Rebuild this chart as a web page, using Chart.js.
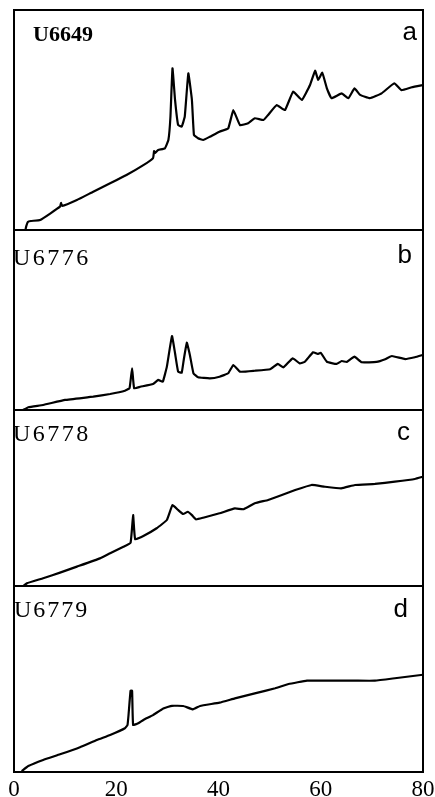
<!DOCTYPE html>
<html>
<head>
<meta charset="utf-8">
<script src="https://cdn.jsdelivr.net/npm/chart.js@4.4.0/dist/chart.umd.min.js"></script>
<style>
    html, body { margin: 0; padding: 0; background: #fff; overflow: hidden; }
    body { width: 435px; height: 797px; position: relative; }
    canvas { position: absolute; left: 0; }
</style>
</head>
<body>
<canvas id="chart-a"></canvas>
<canvas id="chart-b"></canvas>
<canvas id="chart-c"></canvas>
<canvas id="chart-d"></canvas>
<script>
// Eixo x compartilhado (2θ) e rótulos
const xTicks = [0, 20, 40, 60, 80];
const sampleNames = ['U6649', 'U6776', 'U6778', 'U6779'];
const panelLetters = ['a', 'b', 'c', 'd'];

// U6649 (a)
const twoThetaA = [0, 2.2, 2.4, 2.7, 3.3, 5.1, 9.0, 9.2, 9.4, 12.3,
    15.5, 18.8, 22.0, 25.3, 27.2, 27.4, 27.6, 28.2, 29.5, 30.2,
    30.6, 31.0, 31.5, 32.1, 32.8, 33.4, 34.1, 34.8, 35.2, 36.0,
    37.0, 38.3, 40.2, 41.9, 42.9, 44.2, 45.8, 47.1, 48.8, 49.7,
    51.4, 53.0, 54.6, 56.3, 57.9, 58.9, 59.5, 60.3, 61.2, 62.1,
    64.1, 65.4, 66.6, 67.7, 69.6, 71.9, 74.4, 75.8, 77.8, 80];
const intensityA = [0, 0, 1.8, 3.6, 4.1, 4.5, 10.6, 12.3, 10.9, 13.6,
    17.4, 21.2, 25.0, 29.5, 32.7, 35.9, 35.0, 36.4, 37.1, 40.9,
    51.5, 73.5, 59.1, 47.7, 47.0, 51.5, 71.2, 59.1, 43.2, 41.7,
    40.9, 42.4, 44.7, 46.2, 54.5, 47.7, 48.5, 50.8, 50.0, 52.3,
    56.8, 54.5, 62.9, 59.1, 65.9, 72.4, 68.2, 71.5, 64.4, 59.9,
    62.1, 59.9, 64.4, 61.4, 59.9, 62.1, 66.7, 63.6, 64.9, 65.9];

// U6776 (b)
const twoThetaB = [1.8, 2.8, 5.7, 10.0, 15.5, 18.8, 21.7, 22.6, 23.1, 23.5,
    24.7, 27.2, 28.2, 29.1, 29.9, 30.9, 31.5, 32.1, 32.8, 33.2,
    33.8, 34.4, 35.1, 36.0, 38.3, 40.2, 41.9, 42.9, 44.2, 47.1,
    50.1, 51.6, 52.7, 54.5, 55.9, 56.9, 58.5, 59.4, 60.0, 61.2,
    63.1, 64.1, 65.1, 66.6, 68.0, 70.9, 72.6, 73.9, 76.5, 78.4, 80];
const intensityB = [0, 1.5, 2.8, 5.6, 7.4, 8.9, 10.7, 12.1, 23.2, 12.1,
    12.9, 14.4, 16.7, 15.7, 24.1, 41.1, 31.5, 21.3, 20.7, 27.8,
    37.4, 30.6, 20.4, 18.2, 17.6, 18.5, 20.4, 25.0, 21.3, 21.8,
    22.6, 25.6, 23.7, 28.7, 25.9, 26.8, 32.1, 31.1, 31.8, 26.8,
    25.6, 27.2, 26.7, 29.6, 26.5, 26.7, 28.2, 30.0, 28.3, 29.3, 30.6];

// U6778 (c)
const twoThetaC = [1.8, 2.5, 5.7, 9.0, 12.3, 16.8, 18.8, 21.4, 22.8, 23.3,
    23.7, 25.3, 27.9, 29.9, 31.0, 32.1, 33.1, 34.0, 34.8, 35.6,
    37.0, 40.2, 43.2, 44.9, 47.1, 49.7, 52.4, 55.0, 58.2, 60.8,
    64.0, 66.7, 70.6, 74.5, 78.4, 80];
const intensityC = [0, 1.5, 4.4, 7.6, 11.0, 15.7, 18.6, 22.3, 24.6, 40.3,
    26.5, 28.4, 32.8, 37.5, 46.0, 43.2, 40.9, 42.2, 40.3, 37.9,
    38.8, 41.3, 44.1, 43.6, 47.0, 48.9, 51.7, 54.5, 57.4, 56.4,
    55.5, 57.4, 58.0, 59.3, 60.8, 62.1];

// U6779 (d)
const twoThetaD = [1.5, 2.8, 5.7, 9.0, 12.9, 16.2, 18.8, 21.7, 22.2, 22.4,
    22.8, 23.1, 23.3, 24.3, 25.3, 27.2, 29.2, 30.9, 33.1, 35.0,
    36.4, 40.2, 43.2, 47.1, 51.1, 53.7, 57.3, 62.1, 66.7, 70.6,
    74.5, 80];
const intensityD = [0.5, 3.2, 6.5, 9.5, 13.3, 17.2, 19.9, 23.5, 25.3, 30.6,
    43.7, 43.7, 25.3, 26.2, 28.0, 30.6, 34.2, 35.6, 35.5, 33.7,
    35.5, 37.3, 39.6, 42.3, 45.0, 47.3, 49.1, 49.1, 49.1, 49.1,
    50.4, 52.3];

const series = [
    [twoThetaA, intensityA],
    [twoThetaB, intensityB],
    [twoThetaC, intensityC],
    [twoThetaD, intensityD]
];

// Posição de cada painel na página
const panels = [
    { id: 'chart-a', top: 10, height: 220, nameFont: 'bold 22px "Liberation Serif"', spacing: '0px', nameX: 19, nameBase: 31, letterRight: -6, letterBase: 30 },
    { id: 'chart-b', top: 230, height: 180, nameFont: '24px "Liberation Serif"', spacing: '2.5px', nameX: -1, nameBase: 35, letterRight: -11, letterBase: 33 },
    { id: 'chart-c', top: 410, height: 176, nameFont: '24px "Liberation Serif"', spacing: '2.5px', nameX: -1, nameBase: 31, letterRight: -13, letterBase: 30 },
    { id: 'chart-d', top: 586, height: 186, nameFont: '24px "Liberation Serif"', spacing: '2px', nameX: 0, nameBase: 31, letterRight: -15, letterBase: 31 }
];

// Plugin: moldura do painel + nome da amostra + letra
const panelLabels = {
    id: 'panelLabels',
    afterDraw(chart, args, opts) {
        const { ctx, chartArea } = chart;
        ctx.save();
        ctx.strokeStyle = '#000';
        ctx.lineWidth = 2;
        ctx.strokeRect(chartArea.left, chartArea.top, chartArea.right - chartArea.left, chartArea.bottom - chartArea.top);
        ctx.fillStyle = '#000';
        ctx.textBaseline = 'alphabetic';
        ctx.textAlign = 'left';
        ctx.font = opts.nameFont;
        ctx.letterSpacing = opts.spacing;
        ctx.fillText(opts.name, chartArea.left + opts.nameX, chartArea.top + opts.nameBase);
        ctx.letterSpacing = '0px';
        ctx.font = '26px "Liberation Sans"';
        ctx.textAlign = 'right';
        ctx.fillText(opts.letter, chartArea.right + opts.letterRight, chartArea.top + opts.letterBase);
        ctx.restore();
    }
};

panels.forEach((p, i) => {
    const isLast = i === panels.length - 1;
    const canvas = document.getElementById(p.id);
    const axisHeight = 30;
    canvas.style.top = (p.top - 2) + 'px';
    // canvas mais largo que a janela para o rótulo "80" não empurrar a área do gráfico
    canvas.width = 470;
    canvas.height = p.height + 2 + (isLast ? axisHeight : 2);

    const [xs, ys] = series[i];

    new Chart(canvas.getContext('2d'), {
        type: 'line',
        data: {
            datasets: [{
                data: xs.map((x, k) => ({ x: x, y: ys[k] })),
                borderColor: '#000',
                borderWidth: 2.2,
                pointRadius: 0,
                tension: 0.1,
                fill: false
            }]
        },
        options: {
            responsive: false,
            animation: false,
            devicePixelRatio: 1,
            layout: { padding: { left: 14, right: 47, top: 2, bottom: isLast ? 0 : 2 } },
            plugins: {
                legend: { display: false },
                tooltip: { enabled: false },
                panelLabels: {
                    name: sampleNames[i],
                    letter: panelLetters[i],
                    nameFont: p.nameFont,
                    spacing: p.spacing,
                    nameX: p.nameX,
                    nameBase: p.nameBase,
                    letterRight: p.letterRight,
                    letterBase: p.letterBase
                }
            },
            scales: {
                x: {
                    type: 'linear',
                    min: xTicks[0],
                    max: xTicks[xTicks.length - 1],
                    display: isLast,
                    grid: { display: false, drawTicks: false },
                    border: { display: false },
                    afterBuildTicks: axis => { axis.ticks = xTicks.map(v => ({ value: v })); },
                    afterFit: axis => { if (isLast) axis.height = axisHeight; },
                    ticks: {
                        color: '#000',
                        padding: 4,
                        maxRotation: 0,
                        autoSkip: false,
                        font: { family: 'Liberation Serif', size: 23 }
                    }
                },
                y: {
                    min: 0,
                    max: 100,
                    display: false
                }
            }
        },
        plugins: [panelLabels]
    });
});
</script>
</body>
</html>
